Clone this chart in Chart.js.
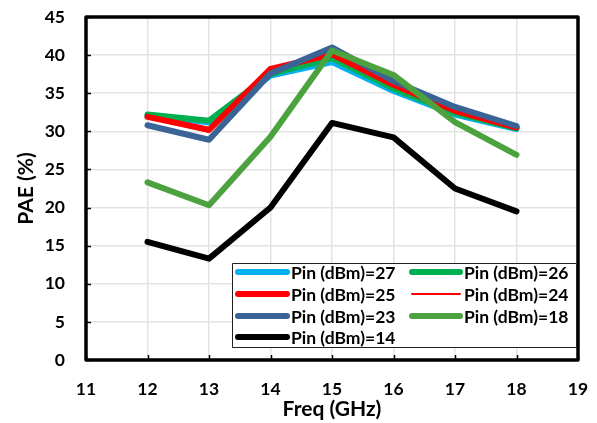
<!DOCTYPE html>
<html>
<head>
<meta charset="utf-8">
<script src="https://cdn.jsdelivr.net/npm/chart.js@4/dist/chart.umd.min.js"></script>
<style>
  html, body { margin: 0; padding: 0; background: #fff; }
  #wrap { width: 597px; height: 423px; }
</style>
</head>
<body>
<div id="wrap"><canvas id="c" width="597" height="423"></canvas></div>
<script>
// Frequency points (GHz)
const freq = [12, 13, 14, 15, 16, 17, 18];

// PAE (%) per input power level
const pae27 = [32.0, 31.2, 37.3, 39.1, 35.3, 32.2, 30.3];
const pae26 = [32.2, 31.4, 37.5, 39.6, 35.6, 32.4, 30.4];
const pae25 = [31.9, 30.2, 38.2, 40.1, 36.1, 32.7, 30.5];
const pae24 = [31.8, 29.9, 38.0, 40.0, 35.9, 32.5, 30.4];
const pae23 = [30.8, 28.9, 37.6, 41.0, 36.6, 33.2, 30.7];
const pae18 = [23.3, 20.3, 29.3, 40.6, 37.4, 31.2, 26.9];
const pae14 = [15.5, 13.3, 20.0, 31.1, 29.2, 22.5, 19.5];

// Axis ticks
const xTicks = [11, 12, 13, 14, 15, 16, 17, 18, 19];
const yTicks = [0, 5, 10, 15, 20, 25, 30, 35, 40, 45];

const seriesLabels = ['Pin (dBm)=27', 'Pin (dBm)=26', 'Pin (dBm)=25', 'Pin (dBm)=24',
                      'Pin (dBm)=23', 'Pin (dBm)=18', 'Pin (dBm)=14'];
const seriesValues = [pae27, pae26, pae25, pae24, pae23, pae18, pae14];
const seriesColors = ['#00B0F0', '#00B050', '#FF0000', '#FF0000', '#3A6496', '#4CA23E', '#000000'];
const seriesWidths = [6, 6, 6, 2, 6, 6, 6];

const FONT = 'Lato, "Liberation Sans", sans-serif';

const datasets = seriesValues.map((vals, i) => ({
  label: seriesLabels[i],
  data: freq.map((f, j) => ({ x: f, y: vals[j] })),
  borderColor: seriesColors[i],
  backgroundColor: seriesColors[i],
  borderWidth: seriesWidths[i],
  borderCapStyle: 'round',
  borderJoinStyle: 'round',
  pointRadius: 0,
  fill: false,
  tension: 0,
  // later series are painted over earlier ones
  order: seriesValues.length - i
}));

// Frame, inner tick marks and the boxed legend inside the plot
const framePlugin = {
  id: 'frame',
  afterDatasetsDraw(chart) {
    const { ctx, chartArea: a, scales } = chart;
    ctx.save();
    // inner tick marks
    ctx.strokeStyle = '#000';
    ctx.lineWidth = 1.5;
    yTicks.forEach(v => {
      const y = Math.round(scales.y.getPixelForValue(v)) + 0.5;
      ctx.beginPath(); ctx.moveTo(a.left, y); ctx.lineTo(a.left + 5, y); ctx.stroke();
    });
    xTicks.forEach(v => {
      const x = Math.round(scales.x.getPixelForValue(v)) + 0.5;
      ctx.beginPath(); ctx.moveTo(x, a.bottom); ctx.lineTo(x, a.bottom - 5); ctx.stroke();
    });
    // plot frame
    ctx.lineWidth = 3.5;
    ctx.strokeStyle = '#000';
    ctx.lineJoin = 'round';
    ctx.strokeRect(a.left, a.top, a.right - a.left, a.bottom - a.top);

    // legend box
    const lx = 232, ly = 263, lw = 344, lh = 84;
    ctx.fillStyle = '#fff';
    ctx.fillRect(lx, ly, lw, lh);
    ctx.lineWidth = 1;
    ctx.strokeStyle = '#222';
    ctx.strokeRect(lx + 0.5, ly + 0.5, lw, lh);
    const rowY = [272, 294, 316, 337];
    const cols = [{ x0: 238, x1: 287, tx: 291 }, { x0: 412, x1: 460, tx: 464 }];
    ctx.font = 'bold 17.5px ' + FONT;
    ctx.textBaseline = 'middle';
    ctx.textAlign = 'left';
    chart.data.datasets.forEach((ds, i) => {
      const c = cols[i % 2];
      const y = rowY[Math.floor(i / 2)];
      ctx.beginPath();
      ctx.strokeStyle = ds.borderColor;
      ctx.lineWidth = ds.borderWidth;
      ctx.lineCap = 'round';
      ctx.moveTo(c.x0, y); ctx.lineTo(c.x1, y); ctx.stroke();
      ctx.fillStyle = '#000';
      ctx.fillText(ds.label, c.tx, y + 1);
    });
    ctx.restore();
  }
};

const noPad = s => { s.paddingTop = 0; s.paddingBottom = 0; s.paddingLeft = 0; s.paddingRight = 0; };

new Chart(document.getElementById('c'), {
  type: 'line',
  data: { datasets },
  options: {
    responsive: false,
    animation: false,
    events: [],
    layout: { padding: { left: 0, top: 17, right: 19, bottom: 0 } },
    plugins: { legend: { display: false }, tooltip: { enabled: false } },
    scales: {
      x: {
        type: 'linear',
        min: 11, max: 19,
        afterBuildTicks: s => { s.ticks = xTicks.map(v => ({ value: v })); },
        afterFit: s => { s.height = 63; noPad(s); },
        grid: { color: '#e3e3e3', lineWidth: 1.5, drawTicks: false },
        border: { display: false },
        ticks: { padding: 19, color: '#000', font: { family: FONT, size: 17.5, weight: 'bold' } },
        title: { display: true, text: 'Freq (GHz)', color: '#000',
                 font: { family: FONT, size: 21, weight: 'bold' }, padding: { top: 0, bottom: 1 } }
      },
      y: {
        type: 'linear',
        min: 0, max: 45,
        afterBuildTicks: s => { s.ticks = yTicks.map(v => ({ value: v })); },
        afterFit: s => { s.width = 86; noPad(s); },
        grid: { color: '#e3e3e3', lineWidth: 1.5, drawTicks: false },
        border: { display: false },
        ticks: { padding: 21, color: '#000', font: { family: FONT, size: 17.5, weight: 'bold' } },
        title: { display: true, text: 'PAE (%)', color: '#000',
                 font: { family: FONT, size: 21, weight: 'bold' }, padding: { top: 14, bottom: 0 } }
      }
    }
  },
  plugins: [framePlugin]
});
</script>
</body>
</html>
